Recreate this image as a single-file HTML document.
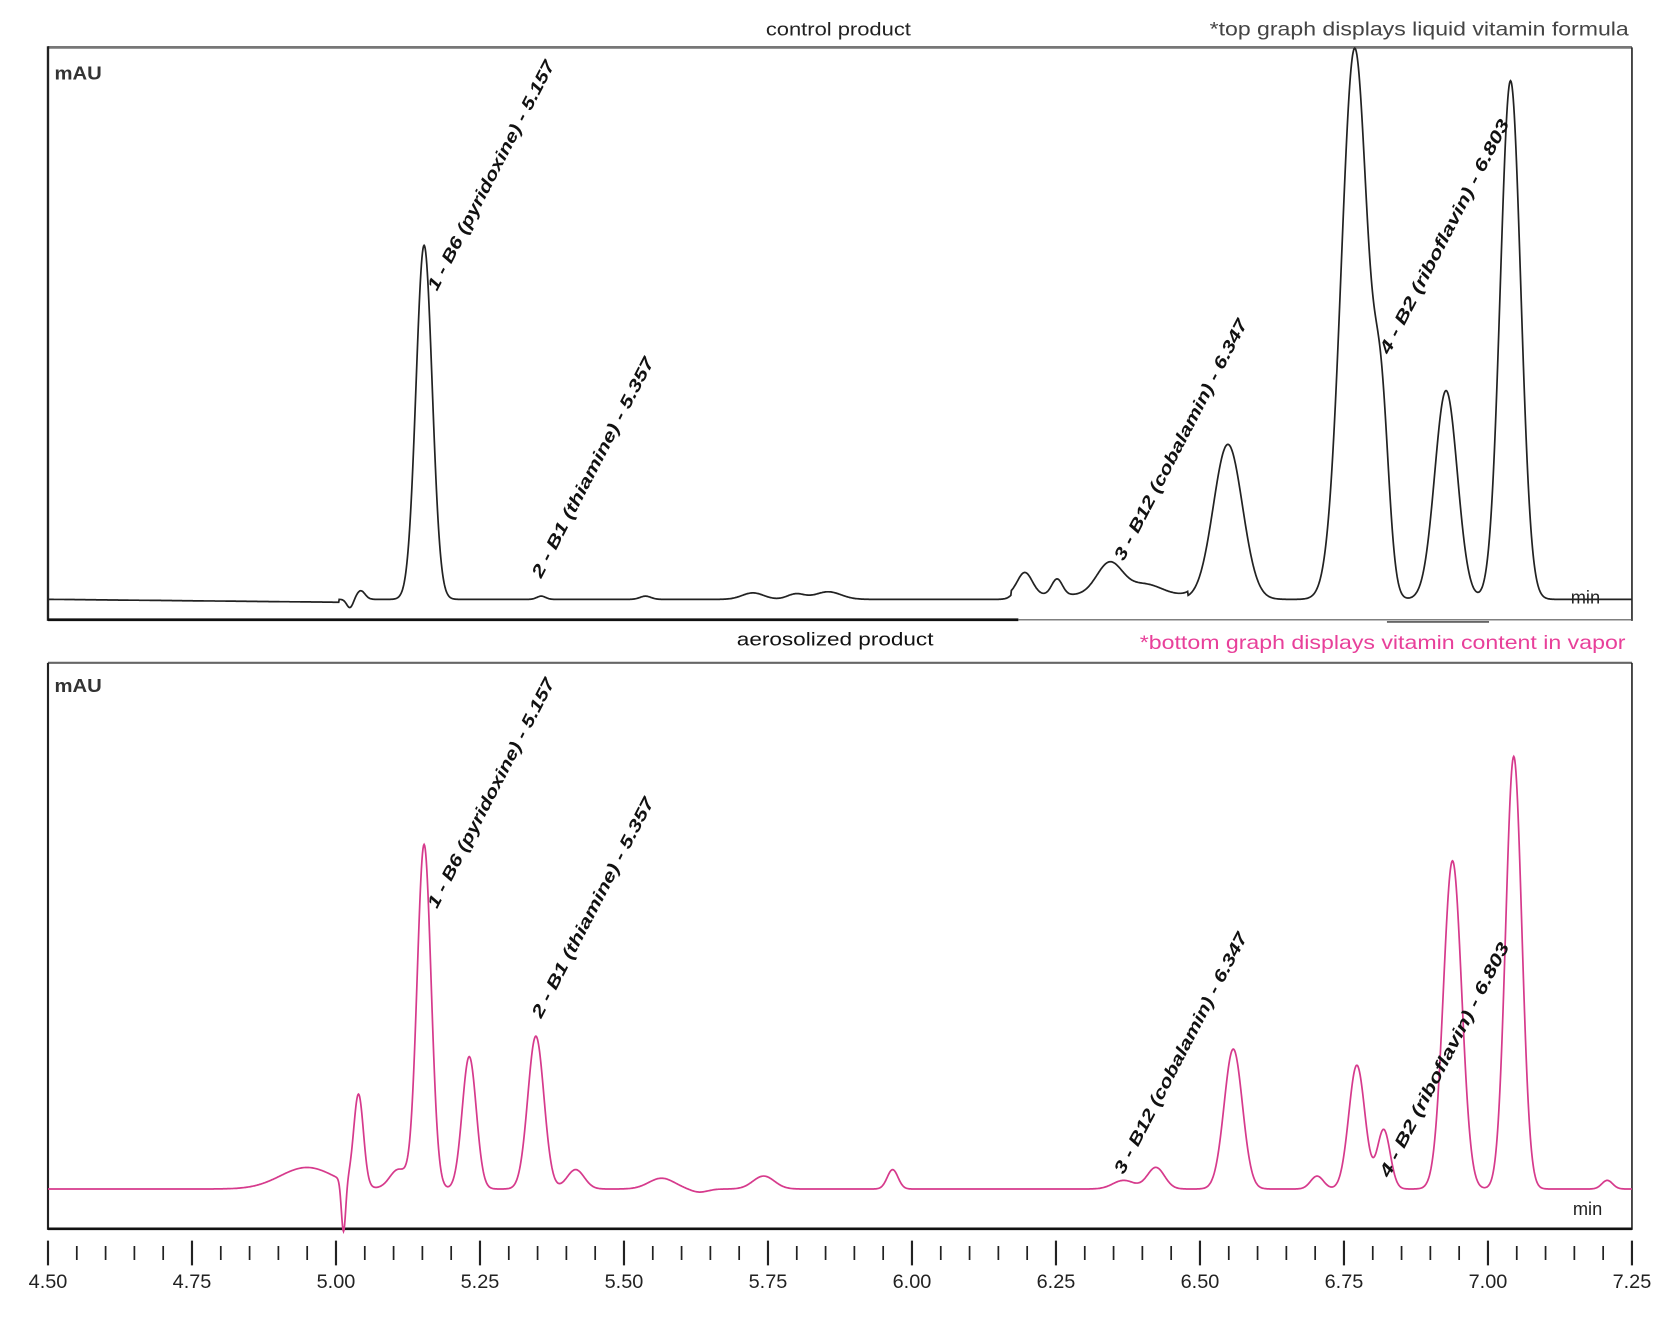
<!DOCTYPE html>
<html><head><meta charset="utf-8"><style>
html,body{margin:0;padding:0;background:#fff;}
svg{display:block;}
text{font-family:"Liberation Sans",sans-serif;}
.lb{font-weight:bold;font-style:italic;font-size:16px;fill:#111;}
</style></head><body>
<svg id="s" width="1680" height="1318" viewBox="0 0 1680 1318" xmlns="http://www.w3.org/2000/svg">
<g id="g" transform="matrix(1.0746 0 0 1.076 -4.66 0)">
  <line x1="49" y1="44" x2="1523" y2="44" stroke="#777" stroke-width="2.5"/>
  <line x1="49" y1="43" x2="49" y2="577" stroke="#222" stroke-width="2.2"/>
  <line x1="1523" y1="44" x2="1523" y2="577" stroke="#222" stroke-width="1.5"/>
  <line x1="49" y1="576" x2="952" y2="576" stroke="#111" stroke-width="2.5"/>
  <line x1="952" y1="576" x2="1523" y2="576" stroke="#555" stroke-width="1"/>
  <line x1="1295" y1="578" x2="1390" y2="578" stroke="#333" stroke-width="1.2"/>
  <line x1="49" y1="616" x2="1523" y2="616" stroke="#666" stroke-width="2"/>
  <line x1="49" y1="616" x2="49" y2="1143" stroke="#222" stroke-width="2"/>
  <line x1="1523" y1="616" x2="1523" y2="1143" stroke="#222" stroke-width="1.5"/>
  <line x1="49" y1="1142" x2="1523" y2="1142" stroke="#111" stroke-width="2.5"/>

  <text x="55" y="74" font-size="17" font-weight="bold" fill="#333" textLength="44" lengthAdjust="spacingAndGlyphs">mAU</text>
  <text x="55" y="643" font-size="17" font-weight="bold" fill="#333" textLength="44" lengthAdjust="spacingAndGlyphs">mAU</text>
  <text x="1466" y="561" font-size="17" fill="#222">min</text>
  <text x="1468" y="1129" font-size="17" fill="#222">min</text>

  <text x="717" y="33" font-size="17" fill="#222" textLength="135" lengthAdjust="spacingAndGlyphs">control product</text>
  <text x="1130" y="33" font-size="18" fill="#444" textLength="390" lengthAdjust="spacingAndGlyphs">*top graph displays liquid vitamin formula</text>
  <text x="690" y="600" font-size="17" fill="#111" textLength="183" lengthAdjust="spacingAndGlyphs">aerosolized product</text>
  <text x="1065" y="603" font-size="18" fill="#e8409a" textLength="452" lengthAdjust="spacingAndGlyphs">*bottom graph displays vitamin content in vapor</text>

  <path id="top" fill="none" stroke="#222" stroke-width="1.6"/>
  <path id="bot" fill="none" stroke="#d63a8c" stroke-width="1.6"/>

  <g id="ticks"></g>

  <g class="lb">
    <text class="lb" transform="translate(411,271) rotate(-62.5)" textLength="238" lengthAdjust="spacingAndGlyphs">1 - B6 (pyridoxine) - 5.157</text>
    <text class="lb" transform="translate(508,538) rotate(-62.5)" textLength="228" lengthAdjust="spacingAndGlyphs">2 - B1 (thiamine) - 5.357</text>
    <text class="lb" transform="translate(1050,522) rotate(-62.5)" textLength="250" lengthAdjust="spacingAndGlyphs">3 - B12 (cobalamin) - 6.347</text>
    <text class="lb" transform="translate(1297,330) rotate(-62.5)" textLength="243" lengthAdjust="spacingAndGlyphs">4 - B2 (riboflavin) - 6.803</text>
    <text class="lb" transform="translate(411,845) rotate(-62.5)" textLength="238" lengthAdjust="spacingAndGlyphs">1 - B6 (pyridoxine) - 5.157</text>
    <text class="lb" transform="translate(508,947) rotate(-62.5)" textLength="228" lengthAdjust="spacingAndGlyphs">2 - B1 (thiamine) - 5.357</text>
    <text class="lb" transform="translate(1050,1092) rotate(-62.5)" textLength="250" lengthAdjust="spacingAndGlyphs">3 - B12 (cobalamin) - 6.347</text>
    <text class="lb" transform="translate(1297,1095) rotate(-62.5)" textLength="243" lengthAdjust="spacingAndGlyphs">4 - B2 (riboflavin) - 6.803</text>
  </g>
</g>
</svg>
<script>
(function(){
function build(base,peaks,x0,x1){
  var d="";
  for(var x=x0;x<=x1;x+=0.5){
    var y=base(x);
    for(var i=0;i<peaks.length;i++){var p=peaks[i];var u=(x-p[0])/p[2];y-=p[1]*Math.exp(-0.5*u*u);}
    d+=(x==x0?"M":"L")+x.toFixed(1)+" "+y.toFixed(1)+" ";
  }
  return d;
}
var topPeaks=[[330,-8,3],[340,8,4],[399,329,7.5],[508,3,4],[605,3,5],[705,6,10],[745,5,8],[775,7,12],
[958,21,7],[988,15,5],[1037,30,12],[1070,10,15],[1147,144,13.5],[1265,512,12.5],[1290,150,7],[1350,194,10.5],[1410,482,9.5]];
var topBase=function(x){ if(x<320) return 557+(x-49)*0.01; if(x>945&&x<1110) return 553; return 557;};
document.getElementById("top").setAttribute("d",build(topBase,topPeaks,49,1523));
var botPeaks=[[290,20,25],[324,-48,2],[338,85,4.5],[375,18,8],[399,320,6.5],[441,123,6.5],[503,142,7.5],[540,18,8],
[620,10,12],[655,-3,8],[715,12,10],[835,18,5],[1050,8,10],[1080,20,8],[1152,130,8.5],[1230,12,6],[1267,115,7.5],[1292,55,6],
[1356,305,8.5],[1413,402,7.5],[1500,8,5]];
var botBase=function(x){return 1105;};
document.getElementById("bot").setAttribute("d",build(botBase,botPeaks,49,1523));
var t=document.getElementById("ticks"),h="";
for(var i=0;i<=55;i++){
  var x=49+i*1474/55;var major=(i%5==0);
  h+='<line x1="'+x.toFixed(1)+'" y1="'+(major?1153:1158)+'" x2="'+x.toFixed(1)+'" y2="'+(major?1176:1171)+'" stroke="#222" stroke-width="'+(major?2:1.6)+'"/>';
  if(major){var v=(4.5+i*0.05).toFixed(2);
    h+='<text x="'+x.toFixed(1)+'" y="1197" font-size="18" fill="#222" text-anchor="middle" textLength="36" lengthAdjust="spacingAndGlyphs">'+v+'</text>';}
}
t.innerHTML=h;
})();
</script>
</body></html>
